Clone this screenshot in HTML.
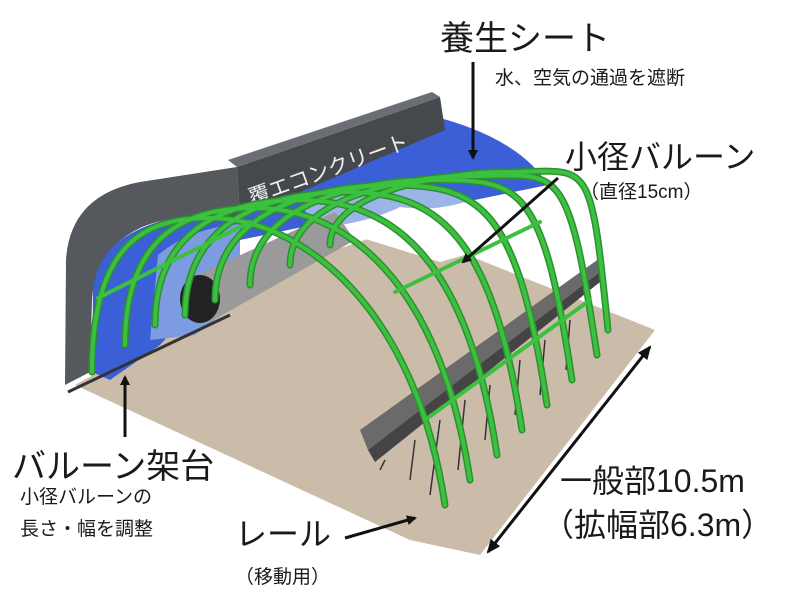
<!DOCTYPE html>
<html><head><meta charset="utf-8"><style>
html,body{margin:0;padding:0;background:#fff;}
svg{display:block;}
text{font-family:"Liberation Sans","Noto Sans CJK JP",sans-serif;fill:#1a1a1a;}
</style></head><body>
<svg width="787" height="598" viewBox="0 0 787 598" xmlns="http://www.w3.org/2000/svg">
<defs>
<marker id="ah" markerWidth="10" markerHeight="10" refX="8" refY="5" orient="auto" markerUnits="userSpaceOnUse"><path d="M0,0 L10,5 L0,10 z" fill="#111"/></marker>
<marker id="ah2" markerWidth="14" markerHeight="12" refX="12" refY="6" orient="auto-start-reverse" markerUnits="userSpaceOnUse"><path d="M0,0 L14,6 L0,12 z" fill="#111"/></marker>
</defs>
<!-- floor -->
<polygon points="75,385 300,262 400,228 655,330 480,555 410,540" fill="#cbbca9"/>
<!-- blue sheet back -->
<path d="M240,200 L440,118 Q520,140 548,185 L450,205 Q400,195 360,215 L240,240 z" fill="#3a5fd6"/>
<path d="M300,205 Q360,175 420,185 L470,200 Q440,212 400,207 Q370,222 320,228 z" fill="#9db4e8"/>
<path d="M330,228 L470,202 L545,232 L440,262 z" fill="#fff"/>
<!-- concrete shell -->
<path d="M65,385 L66,260 Q70,195 140,182 L237,167 L240,218 Q175,212 140,228 Q95,250 92,300 L90,372 z" fill="#55585c"/>
<polygon points="237,167 440,97 445,130 240,218" fill="#45484d"/>
<polygon points="237,167 440,97 432,92 228,160" fill="#6a6d72"/>
<text x="0" y="0" font-size="21" style="fill:#eee" transform="translate(252,205) rotate(-20)">覆エコンクリート</text>
<!-- blue inside tunnel -->
<path d="M92,372 L93,290 Q98,238 165,220 L240,218 L240,245 L200,300 L160,345 L110,380 z" fill="#3a5fd6"/>
<path d="M150,340 L158,255 Q190,228 240,224 L240,300 L195,335 z" fill="#7d9be0"/>
<!-- pipe -->
<path d="M190,278 L335,212 L355,240 L210,322 z" fill="#9a9a9a"/>
<ellipse cx="200" cy="299" rx="20" ry="24" fill="#222"/>
<!-- rail left -->
<line x1="68" y1="392" x2="230" y2="315" stroke="#333" stroke-width="3"/>
<!-- right bench -->
<polygon points="360,430 600,258 605,268 368,450" fill="#6a6a6a"/>
<polygon points="368,450 605,268 605,278 375,462" fill="#444"/>
<g stroke="#333" stroke-width="1.5" fill="none">
<path d="M385,460 L380,470 M415,440 L410,480 M440,420 L430,495 M465,400 L458,470 M490,385 L485,440 M520,360 L515,415 M545,340 L540,395 M570,320 L566,370"/>
</g>
<!-- arches -->
<g stroke="#2e8f31" stroke-width="7" fill="none" stroke-linecap="round">
<path d="M92,372 C92,238 150,218 210,218 C300,218 415,305 445,505"/>
<path d="M125,345 C125,228 195,208 255,208 C345,208 440,280 470,480"/>
<path d="M155,325 C155,220 240,200 300,200 C390,200 467,255 497,455"/>
<path d="M185,315 C185,212 285,192 345,192 C435,192 492,230 522,430"/>
<path d="M215,300 C215,205 330,185 390,185 C480,185 517,205 547,405"/>
<path d="M250,285 C250,200 370,180 430,180 C520,180 542,180 572,380"/>
<path d="M290,265 C290,196 410,176 470,176 C560,176 567,155 597,355"/>
<path d="M330,245 C330,192 445,172 505,172 C590,172 590,150 608,330"/>
</g>
<g stroke="#3cc040" stroke-width="4" fill="none" stroke-linecap="round">
<path d="M92,372 C92,238 150,218 210,218 C300,218 415,305 445,505"/>
<path d="M125,345 C125,228 195,208 255,208 C345,208 440,280 470,480"/>
<path d="M155,325 C155,220 240,200 300,200 C390,200 467,255 497,455"/>
<path d="M185,315 C185,212 285,192 345,192 C435,192 492,230 522,430"/>
<path d="M215,300 C215,205 330,185 390,185 C480,185 517,205 547,405"/>
<path d="M250,285 C250,200 370,180 430,180 C520,180 542,180 572,380"/>
<path d="M290,265 C290,196 410,176 470,176 C560,176 567,155 597,355"/>
<path d="M330,245 C330,192 445,172 505,172 C590,172 590,150 608,330"/>
<path d="M98,298 L250,222"/>
<path d="M425,420 L590,300"/>
<path d="M395,292 L540,222"/>
</g>
<!-- labels -->
<text x="440" y="50" font-size="34">養生シート</text>
<text x="495" y="84" font-size="19">水、空気の通過を遮断</text>
<text x="565" y="168" font-size="32">小径バルーン</text>
<text x="580" y="198" font-size="19">（直径15cm）</text>
<text x="12" y="478" font-size="34">バルーン架台</text>
<text x="20" y="503" font-size="19">小径バルーンの</text>
<text x="20" y="535" font-size="19">長さ・幅を調整</text>
<text x="560" y="492" font-size="32">一般部10.5m</text>
<text x="542" y="536" font-size="32">（拡幅部6.3m）</text>
<text x="235" y="545" font-size="32">レール</text>
<text x="235" y="583" font-size="19">（移動用）</text>
<!-- arrows -->
<g stroke="#111" stroke-width="3" fill="none">
<line x1="473" y1="62" x2="473" y2="158" marker-end="url(#ah)"/>
<line x1="558" y1="178" x2="463" y2="262" marker-end="url(#ah)"/>
<line x1="125" y1="437" x2="125" y2="377" marker-end="url(#ah)"/>
<line x1="345" y1="538" x2="415" y2="518" marker-end="url(#ah)"/>
<line x1="488" y1="552" x2="650" y2="347" marker-start="url(#ah2)" marker-end="url(#ah2)"/>
</g>
</svg>
</body></html>
